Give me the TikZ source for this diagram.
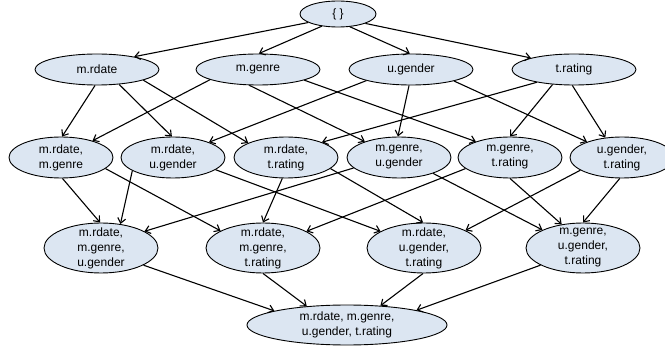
\documentclass[tikz,border=0pt]{standalone}
\usepackage{fontspec}
\setmainfont{Liberation Sans}
\usetikzlibrary{arrows.meta,shapes.geometric}
\definecolor{nodefill}{RGB}{220,230,242}
\begin{document}
\begin{tikzpicture}[x=1pt,y=-1pt,
  lat/.style={ellipse, draw=black, line width=0.9pt, fill=nodefill, inner xsep=0pt, inner ysep=-8pt, align=center, font=\fontsize{12}{15}\selectfont},
  r0/.style={lat, minimum width=76pt, minimum height=26pt},
  r1/.style={lat, minimum width=124pt, minimum height=31pt},
  r2/.style={lat, minimum width=104pt, minimum height=41pt},
  r3/.style={lat, minimum width=114pt, minimum height=50pt},
  r4/.style={lat, minimum width=200pt, minimum height=40pt},
  conn/.style={draw=black, line width=1.1pt, -{Straight Barb[length=5pt,width=8pt]}}
]
\useasboundingbox (0,0) rectangle (665,350);
\node[r0] (E) at (338,14) {\{ \}};
\node[r1] (A) at (97,69.5) {m.rdate};
\node[r1] (B) at (258,69.5) {m.genre};
\node[r1] (C) at (411,69.5) {u.gender};
\node[r1] (D) at (574,69.5) {t.rating};
\node[r2] (AB) at (61,157.5) {m.rdate,\\m.genre};
\node[r2] (AC) at (173,157.5) {m.rdate,\\u.gender};
\node[r2] (AD) at (286,157.5) {m.rdate,\\t.rating};
\node[r2] (BC) at (399,157.5) {m.genre,\\u.gender};
\node[r2] (BD) at (510,157.5) {m.genre,\\t.rating};
\node[r2] (CD) at (622,157.5) {u.gender,\\t.rating};
\node[r3] (ABC) at (101,248) {m.rdate,\\m.genre,\\u.gender};
\node[r3] (ABD) at (263,248) {m.rdate,\\m.genre,\\t.rating};
\node[r3] (ACD) at (424,248) {m.rdate,\\u.gender,\\t.rating};
\node[r3] (BCD) at (583,248) {m.genre,\\u.gender,\\t.rating};
\node[r4] (F) at (347,325) {m.rdate, m.genre,\\u.gender, t.rating};
\draw[conn] (E.196) -- (A.19);
\draw[conn] (E.217) -- (B.87);
\draw[conn] (E.313) -- (C.94);
\draw[conn] (E.341) -- (D.165);
\draw[conn] (A.263) -- (AB.87);
\draw[conn] (A.326) -- (AC.93);
\draw[conn] (A.347) -- (AD.159);
\draw[conn] (B.192) -- (AB.28);
\draw[conn] (B.241) -- (BC.155);
\draw[conn] (B.347) -- (BD.155);
\draw[conn] (C.194) -- (AC.23);
\draw[conn] (C.263) -- (BC.93);
\draw[conn] (C.345) -- (CD.156);
\draw[conn] (D.199) -- (AD.23);
\draw[conn] (D.215) -- (BD.90);
\draw[conn] (D.264) -- (CD.130);
\draw[conn] (AB.274) -- (ABC.92);
\draw[conn] (AB.346) -- (ABD.158);
\draw[conn] (AC.198) -- (ABC.51);
\draw[conn] (AC.344) -- (ACD.159);
\draw[conn] (AD.260) -- (ABD.90);
\draw[conn] (AD.346) -- (ACD.92);
\draw[conn] (BC.193) -- (ABC.21);
\draw[conn] (BC.335) -- (BCD.156);
\draw[conn] (BD.194) -- (ABD.21);
\draw[conn] (BD.270) -- (BCD.132);
\draw[conn] (CD.197) -- (ACD.23);
\draw[conn] (CD.264) -- (BCD.90);
\draw[conn] (ABC.338) -- (F.169);
\draw[conn] (ABD.270) -- (F.155);
\draw[conn] (ACD.268) -- (F.30);
\draw[conn] (BCD.202) -- (F.12);
\end{tikzpicture}
\end{document}
